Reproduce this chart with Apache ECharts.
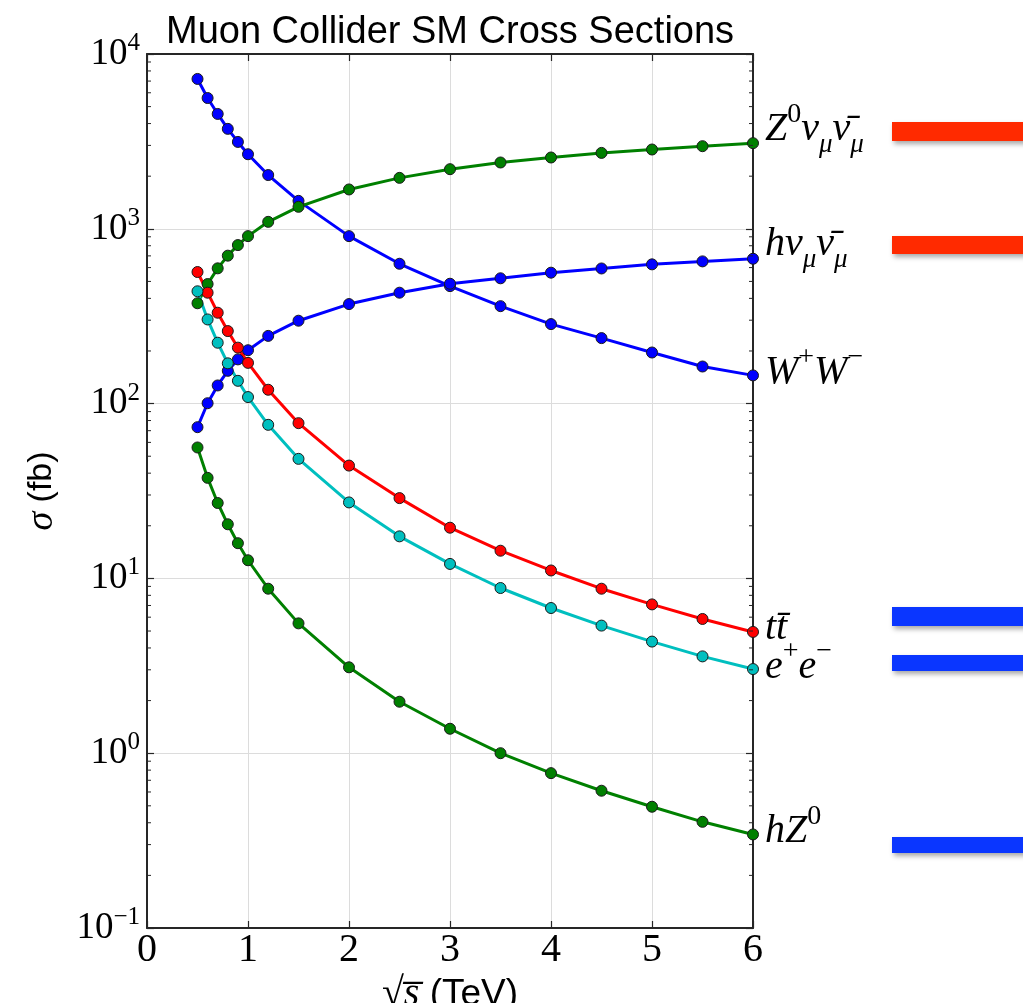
<!DOCTYPE html>
<html>
<head>
<meta charset="utf-8">
<script src="https://cdn.jsdelivr.net/npm/echarts@6/dist/echarts.min.js"></script>
<style>
  html, body { margin: 0; padding: 0; background: #fff; }
  #chart { width: 1023px; height: 1003px; }
</style>
</head>
<body>
<div id="chart"></div>
<script>
// Centre-of-mass energy sqrt(s) in TeV
const sqrtS = [0.5, 0.6, 0.7, 0.8, 0.9, 1.0, 1.2, 1.5, 2.0, 2.5, 3.0, 3.5, 4.0, 4.5, 5.0, 5.5, 6.0];

// Cross sections in fb
const zNuNu = [375, 483, 594, 702, 807, 908, 1096, 1336, 1679, 1956, 2193, 2395, 2558, 2718, 2842, 2969, 3090];
const hNuNu = [73.3, 100.5, 127, 154, 179, 202, 244, 298, 371, 431, 485, 521, 561, 593, 626, 651, 674];
const wPlusWMinus = [7200, 5600, 4540, 3730, 3140, 2670, 2030, 1445, 908, 631, 470, 361, 285, 237, 196, 163, 145];
const ttBar = [566, 431, 331, 260, 209, 171, 120, 77.3, 44.2, 28.8, 19.5, 14.4, 11.1, 8.73, 7.10, 5.86, 4.94];
const eePair = [439, 303, 223, 170, 135, 109, 75.6, 48.3, 27.2, 17.4, 12.1, 8.81, 6.77, 5.37, 4.35, 3.58, 3.03];
const hZ = [56.1, 37.6, 27.0, 20.4, 15.9, 12.7, 8.73, 5.53, 3.10, 1.97, 1.38, 1.00, 0.769, 0.61, 0.494, 0.405, 0.343];

// Axis ranges / ticks
const xTicks = [0, 1, 2, 3, 4, 5, 6];
const yDecades = [-1, 0, 1, 2, 3, 4];

const SERIF = 'Liberation Serif';
const SANS = 'Liberation Sans';
const AXIS_COLOR = '#262626';

// log-axis minor tick positions: 2..9 x 10^n
const minorTickValues = [];
yDecades.slice(0, -1).forEach(function (n) {
  for (let k = 2; k <= 9; k++) minorTickValues.push(k * Math.pow(10, n));
});

const pair = (xs, ys) => xs.map((x, i) => [x, ys[i]]);

// rich text styles for math-like labels
const mathRich = {
  m: { fontFamily: SERIF, fontStyle: 'italic', fontSize: 40, lineHeight: 58, color: '#000' },
  r: { fontFamily: SERIF, fontSize: 40, lineHeight: 58, color: '#000' },
  sup: { fontFamily: SERIF, fontSize: 28, lineHeight: 26, verticalAlign: 'top', color: '#000' },
  sub: { fontFamily: SERIF, fontStyle: 'italic', fontSize: 27, lineHeight: 27, verticalAlign: 'bottom', color: '#000' }
};

function lineSeries(name, ys, color, labelText, offset) {
  return {
    name: name,
    type: 'line',
    data: pair(sqrtS, ys),
    symbol: 'circle',
    symbolSize: 11,
    showAllSymbol: true,
    lineStyle: { color: color, width: 3 },
    itemStyle: { color: color, borderColor: '#1a1a1a', borderWidth: 1 },
    emphasis: { disabled: true },
    clip: false,
    endLabel: {
      show: true,
      formatter: labelText,
      rich: mathRich,
      offset: offset,
      distance: 8
    },
    z: 3
  };
}

const chart = echarts.init(document.getElementById('chart'), null, { renderer: 'canvas' });

const flagShadow = { shadowBlur: 5, shadowOffsetX: 2, shadowOffsetY: 3, shadowColor: 'rgba(0,0,0,0.35)' };

chart.setOption({
  animation: false,
  backgroundColor: '#fff',
  title: {
    text: 'Muon Collider SM Cross Sections',
    left: 161,
    top: 9,
    textStyle: { fontFamily: SANS, fontSize: 38, fontWeight: 'normal', color: '#000' }
  },
  grid: { left: 147, right: 270, top: 54, bottom: 75, containLabel: false, outerBoundsMode: 'none' },
  xAxis: [
    {
      type: 'value', min: 0, max: 6, interval: 1, position: 'bottom',
      axisLine: { show: true, onZero: false, lineStyle: { color: AXIS_COLOR, width: 2 } },
      axisTick: { show: true, inside: true, length: 7, lineStyle: { color: AXIS_COLOR, width: 1.2 } },
      axisLabel: {
        margin: 2, fontFamily: SERIF, fontSize: 40, color: '#000',
        formatter: v => xTicks.indexOf(v) >= 0 ? String(v) : ''
      },
      splitLine: { show: true, lineStyle: { color: '#dcdcdc', width: 1 } },
      name: '{r|√}{m|s\u0305}{t| (TeV)}',
      nameLocation: 'middle',
      nameGap: 40,
      nameTextStyle: {
        rich: {
          r: { fontFamily: SERIF, fontSize: 40, color: '#000' },
          m: { fontFamily: SERIF, fontStyle: 'italic', fontSize: 40, color: '#000' },
          t: { fontFamily: SANS, fontSize: 37, color: '#000' }
        }
      }
    },
    {
      type: 'value', min: 0, max: 6, interval: 1, position: 'top',
      axisLine: { show: true, onZero: false, lineStyle: { color: AXIS_COLOR, width: 2 } },
      axisTick: { show: true, inside: true, length: 7, lineStyle: { color: AXIS_COLOR, width: 1.2 } },
      axisLabel: { show: false },
      splitLine: { show: false }
    }
  ],
  yAxis: [
    {
      type: 'log', logBase: 10, min: 0.1, max: 10000, position: 'left',
      axisLine: { show: true, onZero: false, lineStyle: { color: AXIS_COLOR, width: 2 } },
      axisTick: { show: true, inside: true, length: 7, lineStyle: { color: AXIS_COLOR, width: 1.2 } },
      minorTick: { show: false },
      axisLabel: {
        margin: 7,
        formatter: function (v) {
          const e = Math.round(Math.log10(v));
          return '{b|10}{s|' + (e < 0 ? '\u2212' + (-e) : e) + '}';
        },
        rich: {
          b: { fontFamily: SERIF, fontSize: 37, lineHeight: 46, color: '#000' },
          s: { fontFamily: SERIF, fontSize: 25, lineHeight: 25, verticalAlign: 'top', color: '#000' }
        }
      },
      splitLine: { show: true, lineStyle: { color: '#dcdcdc', width: 1 } },
      name: '{g|σ}{t| (fb)}',
      nameLocation: 'middle',
      nameRotate: 90,
      nameGap: 86,
      nameTextStyle: {
        rich: {
          g: { fontFamily: SERIF, fontStyle: 'italic', fontSize: 38, color: '#000' },
          t: { fontFamily: SANS, fontSize: 34, color: '#000' }
        }
      }
    },
    {
      type: 'log', logBase: 10, min: 0.1, max: 10000, position: 'right',
      axisLine: { show: true, onZero: false, lineStyle: { color: AXIS_COLOR, width: 2 } },
      axisTick: { show: true, inside: true, length: 7, lineStyle: { color: AXIS_COLOR, width: 1.2 } },
      axisLabel: { show: false },
      splitLine: { show: false }
    }
  ],
  series: [
    {
      name: 'minor ticks',
      type: 'custom',
      silent: true,
      clip: false,
      z: 4,
      data: minorTickValues.map(v => [0, v]),
      renderItem: function (params, api) {
        const v = api.value(1);
        const l = api.coord([0, v]);
        const r = api.coord([6, v]);
        const st = { stroke: AXIS_COLOR, lineWidth: 1 };
        return {
          type: 'group',
          children: [
            { type: 'line', shape: { x1: l[0], y1: l[1], x2: l[0] + 4, y2: l[1] }, style: st },
            { type: 'line', shape: { x1: r[0], y1: r[1], x2: r[0] - 4, y2: r[1] }, style: st }
          ]
        };
      }
    },
    lineSeries('WW', wPlusWMinus, '#0000ff', '{m|W}{sup|+}{m|W}{sup|\u2212}', [4, -3]),
    lineSeries('hnunu', hNuNu, '#0000ff', '{m|hν}{sub|μ}{m|ν\u0304}{sub|μ}', [4, -14]),
    lineSeries('Znunu', zNuNu, '#008000', '{m|Z}{sup|0}{m|ν}{sub|μ}{m|ν\u0304}{sub|μ}', [4, -14]),
    lineSeries('ttbar', ttBar, '#ff0000', '{m|tt\u0304}', [4, -3]),
    lineSeries('ee', eePair, '#00bfbf', '{m|e}{sup|+}{m|e}{sup|\u2212}', [4, -2]),
    lineSeries('hZ', hZ, '#008000', '{m|hZ}{sup|0}', [4, -3])
  ],
  graphic: [
    { type: 'rect', silent: true, shape: { x: 892, y: 122, width: 140, height: 19 }, style: Object.assign({ fill: '#ff2a00' }, flagShadow) },
    { type: 'rect', silent: true, shape: { x: 892, y: 236, width: 140, height: 18 }, style: Object.assign({ fill: '#ff2a00' }, flagShadow) },
    { type: 'rect', silent: true, shape: { x: 892, y: 607, width: 140, height: 19 }, style: Object.assign({ fill: '#0a36ff' }, flagShadow) },
    { type: 'rect', silent: true, shape: { x: 892, y: 655, width: 140, height: 16 }, style: Object.assign({ fill: '#0a36ff' }, flagShadow) },
    { type: 'rect', silent: true, shape: { x: 892, y: 837, width: 140, height: 16 }, style: Object.assign({ fill: '#0a36ff' }, flagShadow) }
  ]
});
</script>
</body>
</html>
